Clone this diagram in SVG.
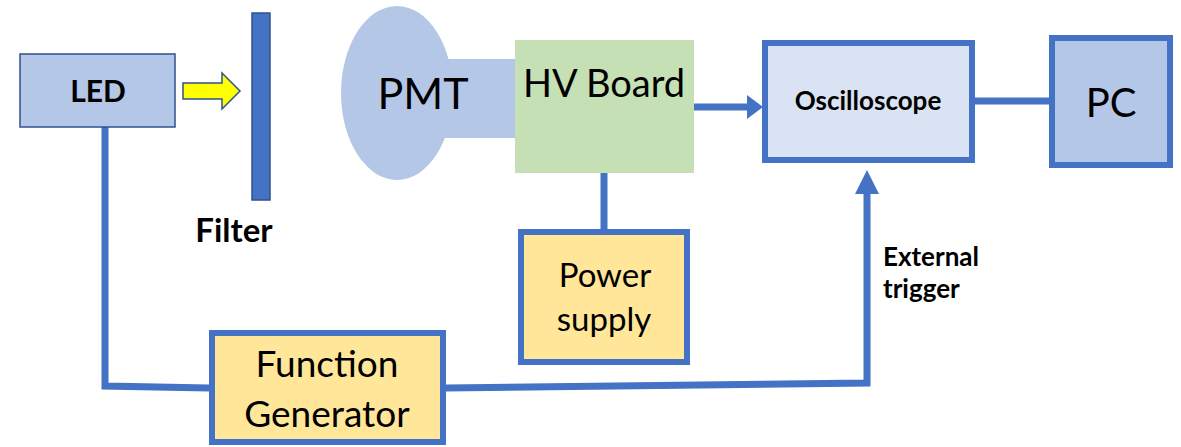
<svg xmlns="http://www.w3.org/2000/svg" width="1181" height="447" viewBox="0 0 1181 447">
<style>
.t{font-family:Lato,"Liberation Sans",sans-serif;fill:#000;text-anchor:middle}
.b{font-weight:bold}
.box{stroke:#4472c4;stroke-width:6}
.wire{fill:none;stroke:#4472c4;stroke-width:7}
</style>
<defs>
<marker id="ahH" markerUnits="userSpaceOnUse" markerWidth="16" markerHeight="24" viewBox="0 0 16 24" refX="1" refY="12" orient="auto">
<path d="M0,0 L16,12 L0,24 Z" fill="#4472c4"/>
</marker>
<marker id="ahV" markerUnits="userSpaceOnUse" markerWidth="24" markerHeight="24" viewBox="0 0 24 24" refX="1" refY="12" orient="auto">
<path d="M0,0 L24,12 L0,24 Z" fill="#4472c4"/>
</marker>
</defs>
<rect width="1181" height="447" fill="#fff"/>
<g id="connectors">
<path class="wire" d="M105,127 L105,386 L209,388"/>
<path class="wire" d="M446,388 L867,383 L867,193" marker-end="url(#ahV)"/>
<path class="wire" d="M694,107 L748,107" marker-end="url(#ahH)"/>
<path class="wire" d="M974,101 L1050,101"/>
<path class="wire" d="M604,173 L604,229"/>
</g>
<g id="led">
<rect x="20" y="54" width="155" height="73" fill="#b4c7e7" stroke="#2f528f" stroke-width="1.5"/>
<text class="t b" x="98" y="102" font-size="30">LED</text>
</g>
<g id="light">
<path d="M183,83 L222,83 L222,73 L240,91 L222,109 L222,99 L183,99 Z" fill="#ffff00" stroke="#2f528f" stroke-width="1.5"/>
</g>
<g id="filter">
<rect x="252" y="13" width="18" height="187" fill="#4472c4" stroke="#2f528f" stroke-width="1.5"/>
<text class="t b" x="234" y="242" font-size="33">Filter</text>
</g>
<g id="pmt">
<ellipse cx="397" cy="93" rx="56" ry="87" fill="#b4c7e7"/>
<rect x="440" y="59" width="76" height="79" fill="#b4c7e7"/>
<text class="t" x="423" y="109" font-size="43">PMT</text>
</g>
<g id="hv">
<rect x="515" y="40" width="179" height="133" fill="#c5e0b4"/>
<text class="t" x="604" y="97" font-size="38">HV Board</text>
</g>
<g id="osc">
<rect x="765" y="43" width="207" height="117" fill="#dae3f3" class="box"/>
<text class="t b" x="868" y="110" font-size="26">Oscilloscope</text>
</g>
<g id="pc">
<rect x="1052" y="38" width="118" height="127" fill="#b4c7e7" class="box"/>
<text class="t" x="1111" y="117" font-size="40">PC</text>
</g>
<g id="power">
<rect x="521" y="232" width="166" height="130" fill="#ffe699" class="box"/>
<text class="t" x="605" y="287" font-size="33">Power</text>
<text class="t" x="604" y="331" font-size="33">supply</text>
</g>
<g id="fg">
<rect x="212" y="333" width="231" height="109" fill="#ffe699" class="box"/>
<text class="t" x="327" y="377" font-size="37">Function</text>
<text class="t" x="327" y="427" font-size="37">Generator</text>
</g>
<g id="trigger-label">
<text class="t b" x="883" y="266" font-size="26" style="text-anchor:start">External</text>
<text class="t b" x="883" y="298" font-size="26" style="text-anchor:start">trigger</text>
</g>
</svg>
